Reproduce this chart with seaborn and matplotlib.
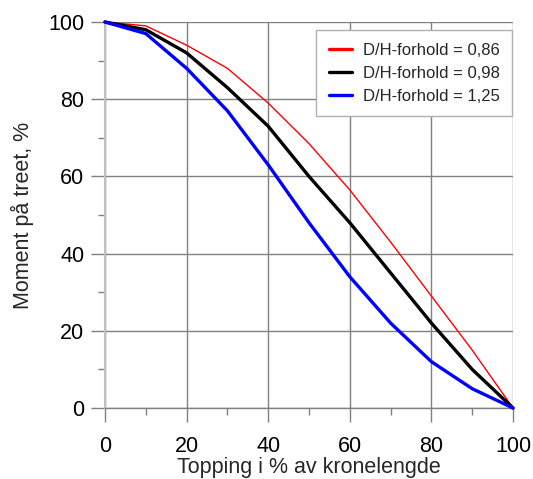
import matplotlib
matplotlib.use("Agg")
import matplotlib.pyplot as plt
import seaborn as sns
import pandas as pd
from matplotlib.ticker import MultipleLocator

sns.set_theme(style="white")
plt.rcParams['font.family'] = ['Liberation Sans', 'DejaVu Sans']

topping = [0, 10, 20, 30, 40, 50, 60, 70, 80, 90, 100]
moment_086 = [100, 99, 94, 88, 79, 68.5, 56.5, 43, 29, 15, 0]
moment_098 = [100, 98, 92, 83, 73, 60, 48, 35, 22, 10, 0]
moment_125 = [100, 97, 88, 77, 63, 48, 34, 22, 12, 5, 0]
labels = ["D/H-forhold = 0,86", "D/H-forhold = 0,98", "D/H-forhold = 1,25"]
colors = ["#ff0000", "#000000", "#0000ff"]
widths = [1.0, 2.4, 2.4]

frames = []
for lab, vals in zip(labels, [moment_086, moment_098, moment_125]):
    frames.append(pd.DataFrame({"x": topping, "y": vals, "serie": lab}))
df = pd.concat(frames, ignore_index=True)

fig = plt.figure(figsize=(5.33, 4.79), dpi=100)
ax = fig.add_axes([105/533, 1-408/479, 408/533, 386/479])

for lab, col, lw in zip(labels, colors, widths):
    sns.lineplot(data=df[df["serie"] == lab], x="x", y="y", color=col,
                 linewidth=lw, label=lab, ax=ax, clip_on=False, zorder=3)

ax.set_xlim(0, 100)
ax.set_ylim(0, 100)
ax.xaxis.set_major_locator(MultipleLocator(20))
ax.xaxis.set_minor_locator(MultipleLocator(10))
ax.yaxis.set_major_locator(MultipleLocator(20))
ax.yaxis.set_minor_locator(MultipleLocator(10))

ax.grid(True, which="major", color="#808080", linewidth=1.0)
ax.set_axisbelow(True)
for s in ["top", "right"]:
    ax.spines[s].set_visible(False)
ax.spines["left"].set_color("#c0c0c0")
ax.spines["left"].set_linewidth(1.5)
ax.spines["bottom"].set_color("#808080")
ax.spines["bottom"].set_linewidth(1.0)

ax.tick_params(axis="both", which="major", direction="out", length=10,
               width=1.0, color="#808080", labelsize=15.5, labelcolor="black", pad=5)
ax.tick_params(axis="both", which="minor", direction="out", length=5,
               width=1.0, color="#808080")
ax.tick_params(axis="x", which="major", pad=10)
ax.tick_params(bottom=True, left=True, which="both")

ax.set_xlabel("Topping i % av kronelengde", fontsize=15.5, labelpad=0)
ax.set_ylabel("Moment på treet, %", fontsize=15.5, labelpad=10)

leg = ax.legend(loc="upper right", bbox_to_anchor=(0.998, 0.979), borderaxespad=0,
                fontsize=12, frameon=True, fancybox=False, handlelength=1.4,
                labelspacing=0.48, borderpad=0.75, handletextpad=0.65)
leg.get_frame().set_edgecolor("#b0b0b0")
leg.get_frame().set_linewidth(1.0)
leg.get_frame().set_facecolor("white")
leg.get_frame().set_alpha(1.0)
for line in leg.get_lines():
    line.set_linewidth(2.4)

fig.savefig("out.png", dpi=100, facecolor="white")
